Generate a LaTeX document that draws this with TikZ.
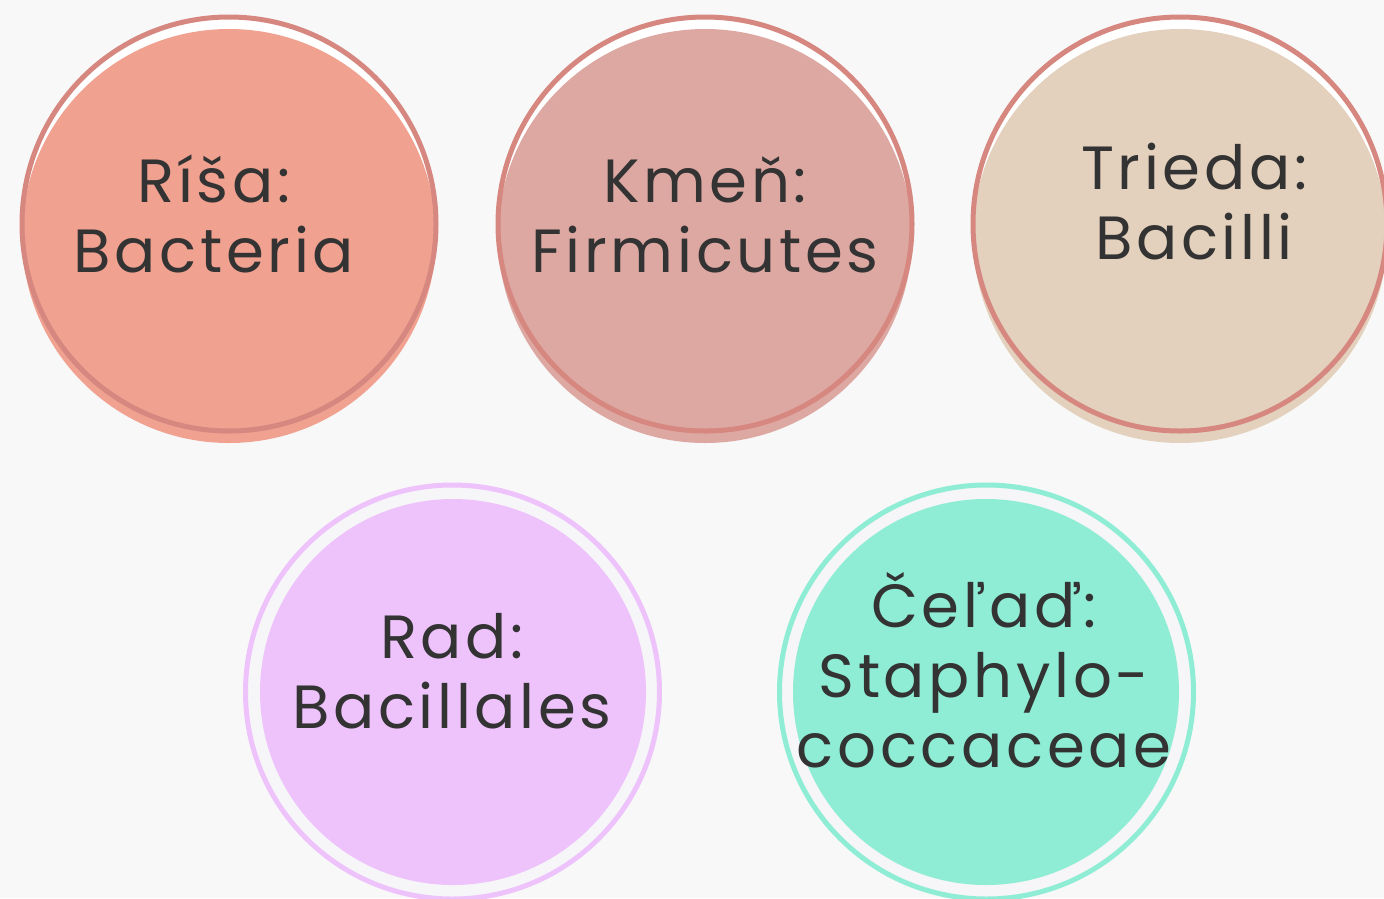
\documentclass[tikz,border=0pt]{standalone}
\usepackage{fontspec}
\newfontfamily\taxfont[LetterSpace=6]{Poppins}
\definecolor{paper}{HTML}{F8F8F8}
\definecolor{gap}{HTML}{F6F5F7}
\definecolor{ink}{HTML}{333333}
\definecolor{rimred}{HTML}{D6877F}
\definecolor{salmon}{HTML}{F0A190}
\definecolor{dustrose}{HTML}{DDA8A2}
\definecolor{sand}{HTML}{E3D1BD}
\definecolor{lilac}{HTML}{EEC3FC}
\definecolor{mint}{HTML}{8EEDD4}
\tikzset{
  rim/.style={circle, minimum size=414pt, inner sep=0pt, line width=5pt},
  disc/.style={circle, minimum size=414pt, inner sep=0pt},
  core/.style={circle, minimum size=386pt, inner sep=0pt},
  taxon/.style={font=\taxfont\fontsize{61}{70}\selectfont, text=ink, align=center, anchor=base, inner sep=0pt}
}

\begin{document}
\begin{tikzpicture}[x=1pt,y=-1pt]
            \useasboundingbox (0,0) rectangle (1384,898);
            \fill [paper] (0,0) rectangle (1384,898);

            \node (risaback) at (229,224) [disc, fill=white] {};
            \node (risadisc) at (229,236) [disc, fill=salmon] {};
            \node (risarim) at (229,224) [rim, draw=rimred] {};
            \node (risa) at (214,272) [taxon] {Ríša:\\Bacteria};

            \node (kmenback) at (705,224) [disc, fill=white] {};
            \node (kmendisc) at (705,236) [disc, fill=dustrose] {};
            \node (kmenrim) at (705,224) [rim, draw=rimred] {};
            \node (kmen) at (705,272) [taxon] {Kmeň:\\Firmicutes};

            \node (triedaback) at (1180,224) [disc, fill=white] {};
            \node (triedadisc) at (1180,236) [disc, fill=sand] {};
            \node (triedarim) at (1180,224) [rim, draw=rimred] {};
            \node (trieda) at (1194,259) [taxon] {Trieda:\\Bacilli};

            \node (radrim) at (452.5,692) [rim, draw=lilac, fill=gap] {};
            \node (raddisc) at (453,692) [core, fill=lilac] {};
            \node (rad) at (452,728) [taxon] {Rad:\\Bacillales};

            \node (celadrim) at (986.5,692) [rim, draw=mint, fill=gap] {};
            \node (celaddisc) at (986,692) [core, fill=mint] {};
            \node (celad) at (984,767) [taxon] {Čeľaď:\\Staphylo-\\coccaceae};
\end{tikzpicture}
\end{document}
